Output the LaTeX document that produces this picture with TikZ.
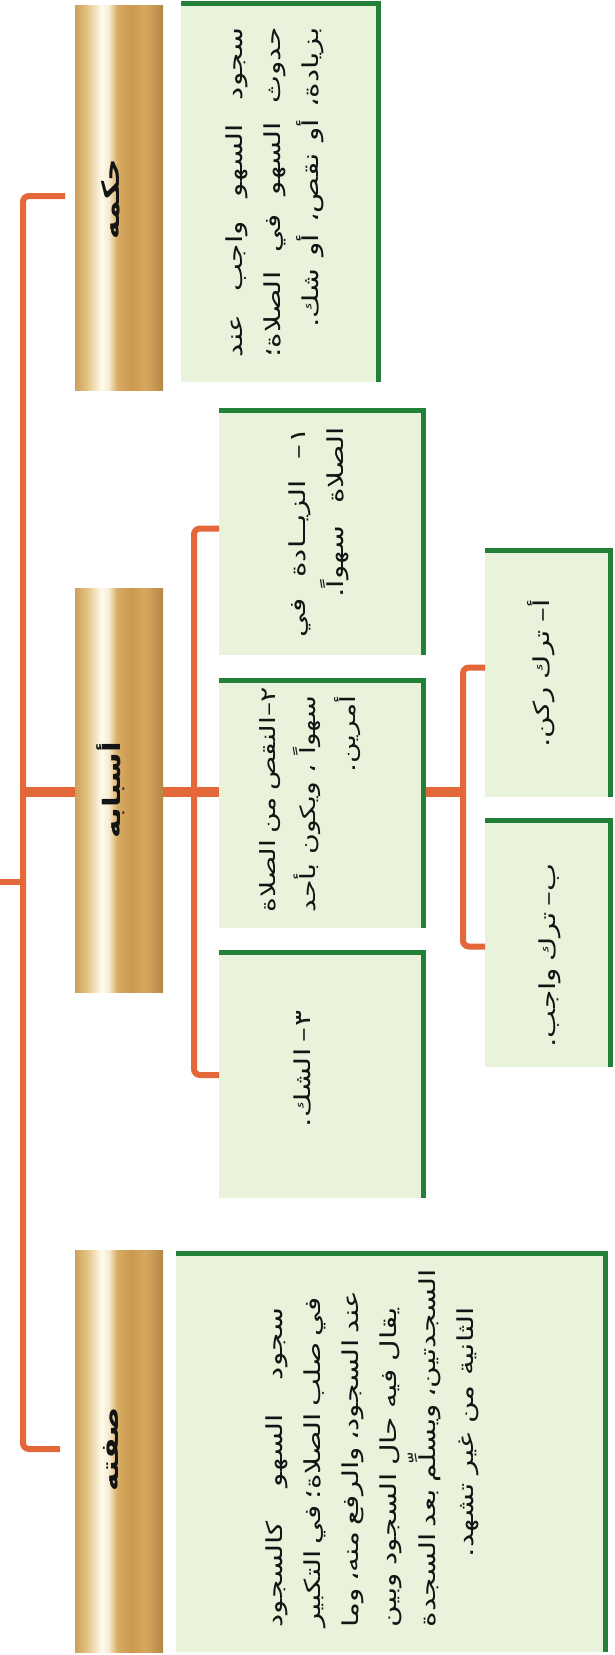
\documentclass[tikz,border=0pt]{standalone}
\usepackage{fontspec}
\usepackage{graphicx}
\newfontfamily\widefont[Script=Arabic,FakeStretch=1.35]{DejaVu Sans}
\newfontfamily\labelfont[Script=Arabic,FakeStretch=1.3]{DejaVu Sans}
\TeXXeTstate=1
\usetikzlibrary{calc}
\definecolor{orangec}{RGB}{228,103,58}
\definecolor{greenc}{RGB}{34,128,56}
\definecolor{boxfill}{RGB}{233,242,219}
\definecolor{textc}{RGB}{20,20,20}
\definecolor{gA}{RGB}{205,160,90}
\definecolor{gB}{RGB}{228,196,135}
\definecolor{gC}{RGB}{255,251,238}
\definecolor{gD}{RGB}{248,236,208}
\definecolor{gE}{RGB}{215,172,100}
\definecolor{gF}{RGB}{203,152,78}
\definecolor{gG}{RGB}{214,168,94}
\definecolor{gH}{RGB}{180,135,70}
\pgfdeclarehorizontalshading{goldrod}{100bp}{color(0bp)=(gA); color(25bp)=(gA); color(32bp)=(gB); color(40bp)=(gC); color(44bp)=(gD); color(49bp)=(gE); color(57bp)=(gF); color(65bp)=(gG); color(75bp)=(gH); color(100bp)=(gH)}
\newcommand{\JL}[2]{\hbox to #1pt{#2}}
\newcommand{\boxtext}[1]{\rotatebox{90}{\widefont\fontsize{22}{38}\selectfont\color{textc}\begin{tabular}{@{}r@{}}#1\end{tabular}}}
\newcommand{\midtext}[1]{\rotatebox{90}{\widefont\fontsize{21}{40}\selectfont\color{textc}\begin{tabular}{@{}r@{}}#1\end{tabular}}}
\newcommand{\rodlabel}[1]{\rotatebox{90}{\labelfont\bfseries\fontsize{24}{28}\selectfont\color{textc}#1}}
\tikzset{
  conn/.style={draw=orangec, line width=6pt},
  thickconn/.style={draw=orangec, line width=10pt},
  greenbox/.style={fill=boxfill, inner sep=0pt, outer sep=0pt},
  gborder/.style={draw=greenc, line width=5pt, line join=miter},
  rod/.style={shading=goldrod, inner sep=0pt, outer sep=0pt, minimum width=88pt},
  txt/.style={inner sep=0pt}
}
\begin{document}
\begin{tikzpicture}[x=1pt,y=1pt]
\useasboundingbox (0,0) rectangle (614,-1655);
% junction coordinates
\coordinate (j1) at (23,-196);
\coordinate (j2) at (23,-792);
\coordinate (j3) at (23,-1449);
\coordinate (s2) at (463,-792);
\coordinate (stubL) at (0,-882);
\coordinate (stubR) at (23,-882);
% thick branch (under nodes)
\draw[thickconn] (j2) -- (s2);
% boxes
\node[greenbox, minimum width=197pt, minimum height=379pt] (b0) at (279.5,-192.5) {};
\node[greenbox, minimum width=204pt, minimum height=245pt] (b1) at (321,-532.5) {};
\node[greenbox, minimum width=204pt, minimum height=248pt] (b2) at (321,-804) {};
\node[greenbox, minimum width=204pt, minimum height=246pt] (b3) at (321,-1075) {};
\node[greenbox, minimum width=125pt, minimum height=247pt] (ba) at (547.5,-673.5) {};
\node[greenbox, minimum width=125pt, minimum height=247pt] (bb) at (547.5,-943.5) {};
\node[greenbox, minimum width=429pt, minimum height=399pt] (b4) at (390.5,-1452.5) {};
% rods
\node[rod, minimum height=385pt] (c1) at (119,-197.5) {};
\node[rod, minimum height=404pt] (c2) at (119,-790) {};
\node[rod, minimum height=402pt] (c3) at (119,-1451) {};
\node[txt] (l1) at ([xshift=-8pt,yshift=-2pt]c1.center) {\rodlabel{\beginR حكمه\endR}};
\node[txt] (l2) at ([xshift=-8pt]c2.center) {\rodlabel{\beginR أسبابه\endR}};
\node[txt] (l3) at ([xshift=-8pt,yshift=2pt]c3.center) {\rodlabel{\beginR صفته\endR}};
% connectors
\draw[conn, rounded corners=6pt] ([xshift=-10pt]c1.west |- j1) -- (j1) -- (j3) -- ([xshift=-15pt]c3.west |- j3);
\draw[conn] (stubL) -- (stubR);
\draw[conn, rounded corners=6pt] ([yshift=4pt]b1.west) -- ++(-25,0) |- (b3.west);
\draw[conn, rounded corners=6pt] ([yshift=6pt]ba.west) -- ++(-22,0) |- ([yshift=-3pt]bb.west);
% green borders
\foreach \b in {b0,b1,b2,b3,ba,bb,b4}{
  \draw[gborder] (\b.north west) -- (\b.north east) -- (\b.south east);
}
% texts
\node[txt] (t0) at ([xshift=-7pt]b0.center) {\boxtext{\JL{330}{\beginR سجود السهو واجب عند\endR}\\ \JL{330}{\beginR حدوث السهو في الصلاة؛\endR}\\ \JL{300}{\beginR بزيادة، أو نقص، أو شك.\endR}}};
\node[txt] (t1) at ([xshift=-4pt]b1.center) {\boxtext{\JL{210}{\beginR ١\kern1pt– الزيــادة في\endR}\\ \JL{170}{\beginR الصلاة سهواً.\endR}}};
\node[txt] (t2) at ([xshift=-14pt]b2.center) {\midtext{\JL{217}{\beginR ٢–النقص من الصلاة\endR}\\ \JL{217}{\beginR سهواً ، ويكون بأحد\endR}\\ \beginR أمرين.\endR}};
\node[txt] (t3) at ([xshift=-18pt,yshift=4pt]b3.center) {\boxtext{\JL{112}{\beginR ٣\kern1pt– الشك.\endR}}};
\node[txt] (ta) at ([xshift=-6pt]ba.center) {\boxtext{\JL{148}{\beginR أ– ترك ركن.\endR}}};
\node[txt] (tb) at ([xshift=0pt,yshift=-14pt]bb.center) {\boxtext{\JL{180}{\beginR ب– ترك واجب.\endR}}};
\node[txt] (t4) at ([xshift=-20pt,yshift=-15pt]b4.center) {\boxtext{\JL{320}{\beginR سجود السهو كالسجود\endR}\\ \JL{320}{\beginR في صلب الصلاة؛ في التكبير\endR}\\ \JL{320}{\beginR عند السجود، والرفع منه، وما\endR}\\ \JL{320}{\beginR يقال فيه حال السجود وبين\endR}\\ \JL{320}{\beginR السجدتين، ويسلِّم بعد السجدة\endR}\\ \beginR الثانية من غير تشهد.\endR}};
\end{tikzpicture}
\end{document}
